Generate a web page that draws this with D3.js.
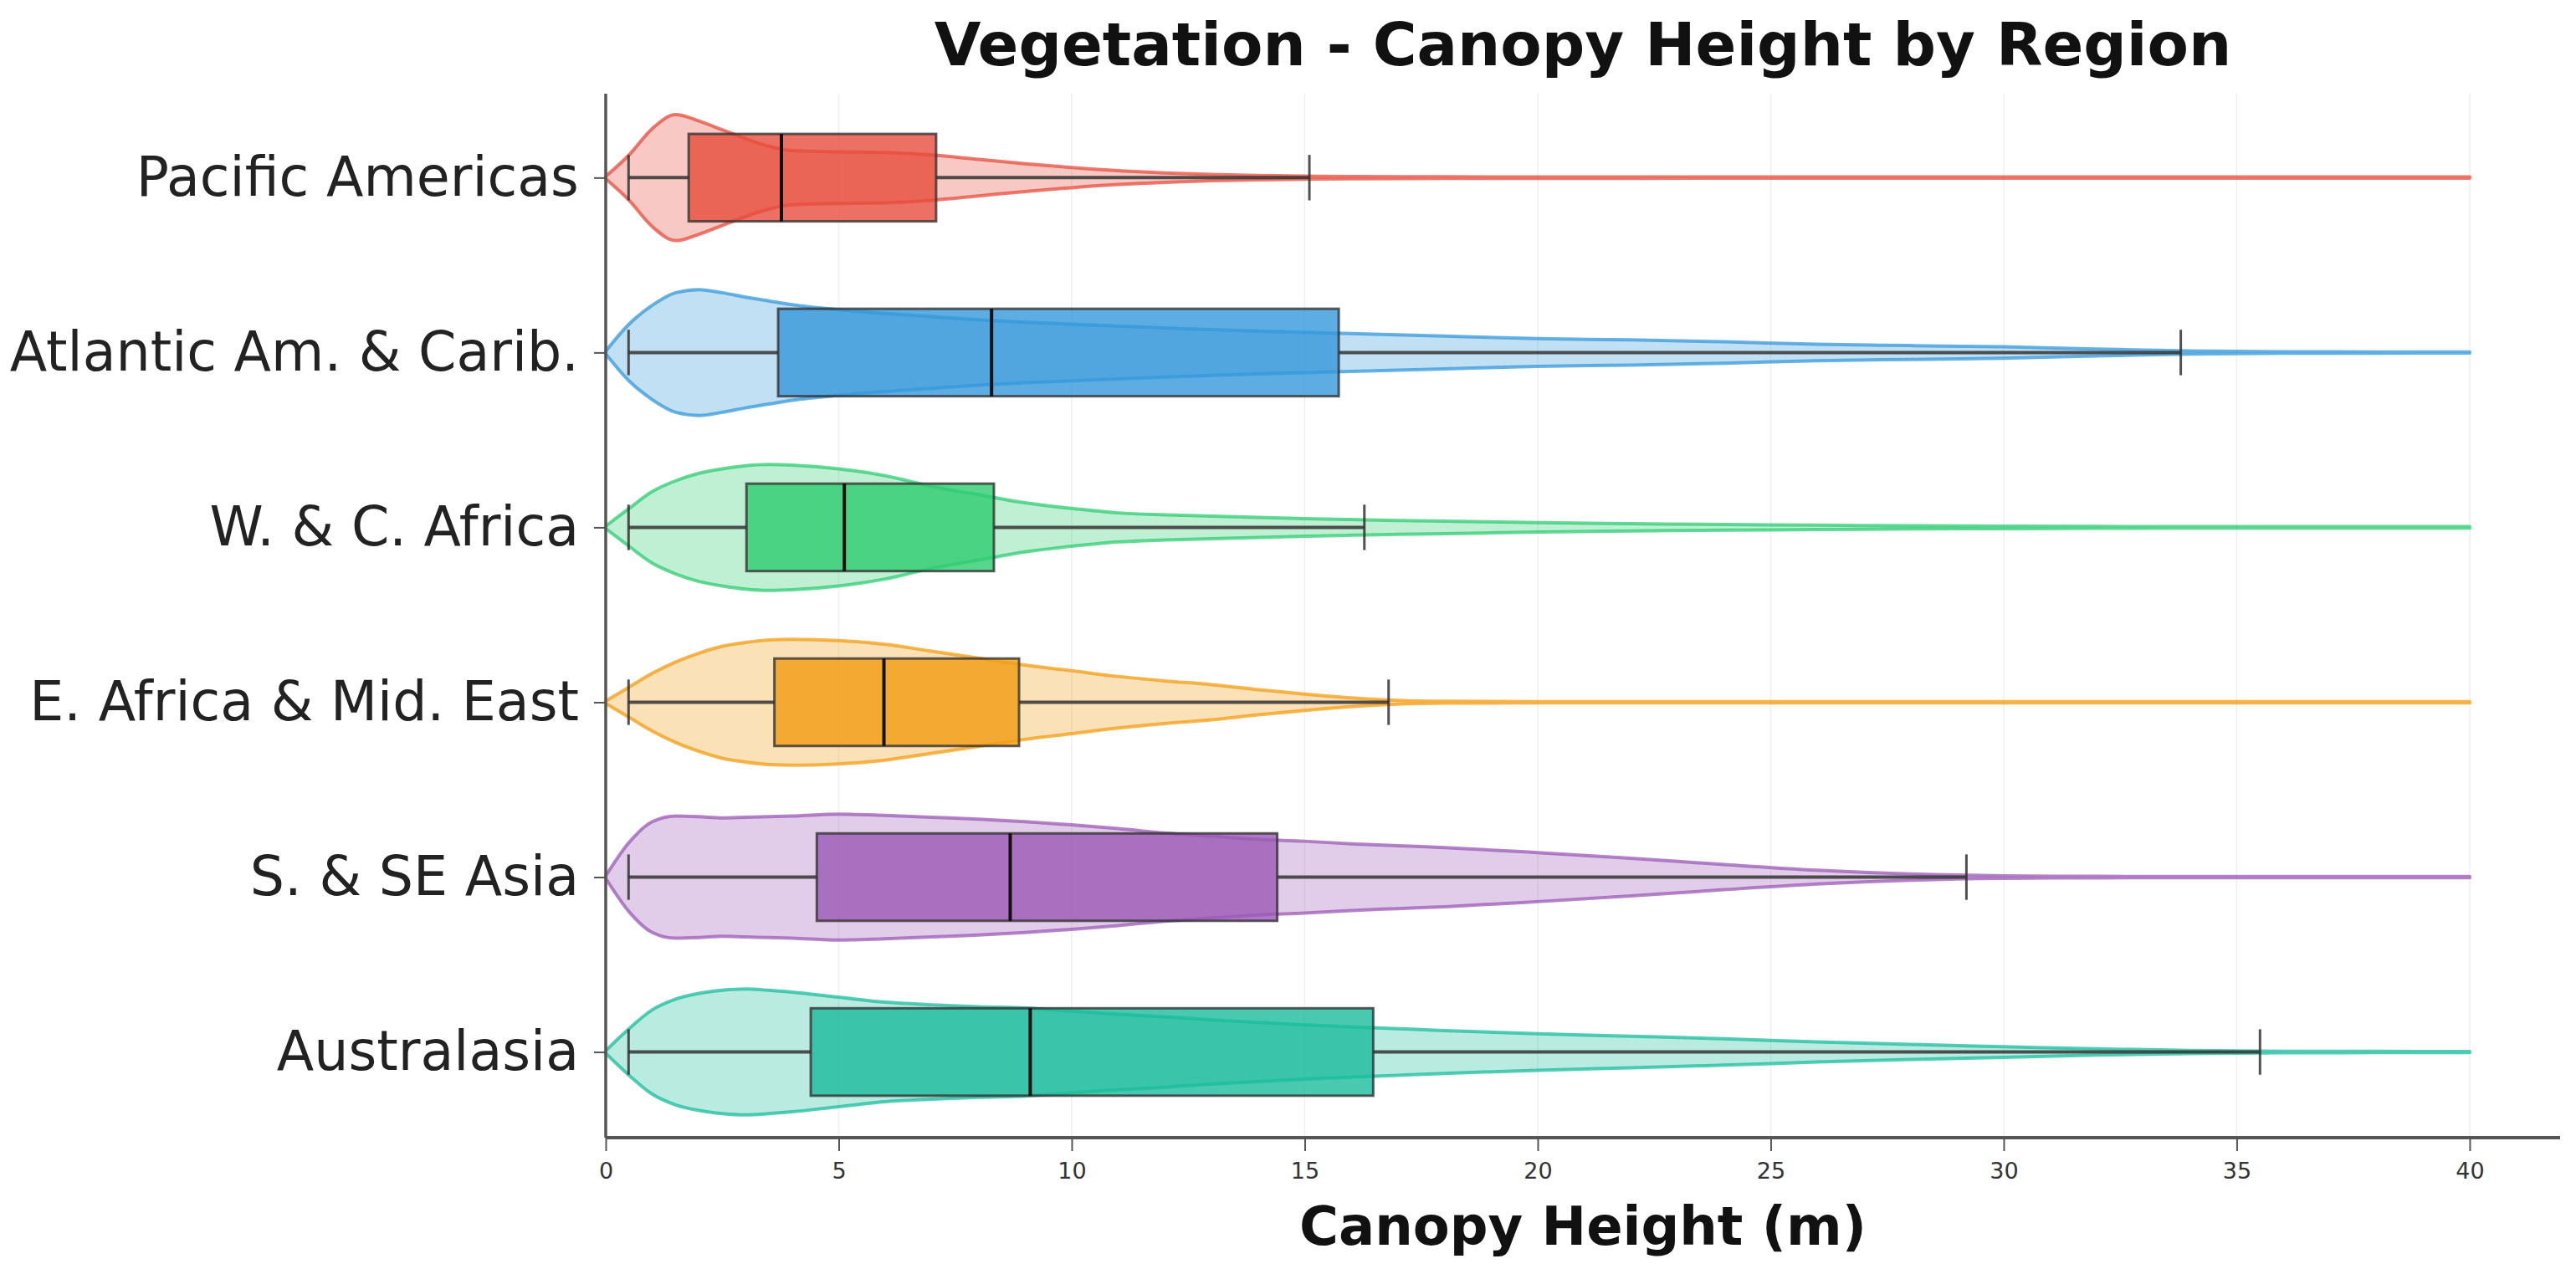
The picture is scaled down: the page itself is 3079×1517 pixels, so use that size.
<!DOCTYPE html>
<html>
<head>
<meta charset="utf-8">
<script src="https://cdn.jsdelivr.net/npm/d3@7"></script>
<style>
  html, body { margin: 0; padding: 0; background: #ffffff; }
  svg { display: block; }
  text { font-family: "DejaVu Sans", sans-serif; }
</style>
</head>
<body>
<script>
// ---------------- DATA ----------------
const categories = ["Pacific Americas", "Atlantic Am. & Carib.", "W. & C. Africa",
                    "E. Africa & Mid. East", "S. & SE Asia", "Australasia"];
const colors = ["#e74c3c", "#3498db", "#2ecc71", "#f39c12", "#9b59b6", "#1abc9c"];

const whiskerLow  = [0.49, 0.49, 0.49, 0.49, 0.49, 0.49];
const q1          = [1.78, 3.70, 3.02, 3.62, 4.53, 4.40];
const median      = [3.77, 8.28, 5.12, 5.97, 8.68, 9.11];
const q3          = [7.09, 15.73, 8.33, 8.87, 14.41, 16.47];
const whiskerHigh = [15.1, 33.8, 16.28, 16.8, 29.2, 35.5];

// violin profile: canopy height grid (m) and relative density (max = 1) per region
const densityGrid = [0, 0.5, 1, 1.5, 2, 2.5, 3, 3.5, 4, 5, 6, 7, 8, 9, 10, 11, 12, 13, 14, 15,
                     16, 17, 18, 20, 22, 24, 26, 28, 30, 32, 34, 36, 38, 40];
const densityPacific = [0.02,0.36,0.78,1.0,0.9,0.76,0.62,0.5,0.43,0.41,0.40,0.36,0.29,0.22,0.16,0.11,0.075,0.05,0.035,0.025,0.018,0.015,0.013,0.012,0.011,0.01,0.01,0.01,0.01,0.01,0.01,0.01,0.01,0.01];
const densityAtlantic = [0.02,0.45,0.75,0.95,1.0,0.95,0.88,0.82,0.76,0.68,0.62,0.57,0.52,0.48,0.45,0.42,0.39,0.365,0.34,0.32,0.30,0.28,0.26,0.22,0.20,0.17,0.13,0.11,0.09,0.055,0.025,0.012,0.01,0.008];
const densityWCAfrica = [0.02,0.3,0.57,0.74,0.86,0.93,0.98,1.0,0.99,0.93,0.82,0.65,0.52,0.39,0.3,0.23,0.2,0.18,0.16,0.14,0.125,0.11,0.1,0.075,0.058,0.045,0.035,0.025,0.02,0.015,0.012,0.012,0.012,0.012];
const densityEAfrica = [0.02,0.24,0.46,0.64,0.78,0.89,0.95,0.99,1.0,0.98,0.92,0.81,0.7,0.59,0.5,0.41,0.34,0.28,0.2,0.13,0.07,0.03,0.015,0.01,0.01,0.01,0.01,0.01,0.01,0.01,0.01,0.01,0.01,0.01];
const densitySAsia = [0.02,0.55,0.88,0.97,0.96,0.94,0.95,0.96,0.97,1.0,0.98,0.95,0.92,0.88,0.83,0.77,0.7,0.65,0.6,0.57,0.53,0.5,0.47,0.39,0.3,0.2,0.11,0.05,0.02,0.012,0.01,0.01,0.01,0.01];
const densityAustralasia = [0.02,0.37,0.67,0.84,0.93,0.98,1.0,0.98,0.95,0.87,0.79,0.75,0.72,0.7,0.65,0.6,0.56,0.51,0.47,0.43,0.4,0.37,0.34,0.29,0.25,0.21,0.16,0.12,0.085,0.05,0.025,0.012,0.01,0.008];
const densities = [densityPacific, densityAtlantic, densityWCAfrica, densityEAfrica, densitySAsia, densityAustralasia];

const xTicks = [0, 5, 10, 15, 20, 25, 30, 35, 40];
const titleText = "Vegetation - Canopy Height by Region";
const xLabelText = "Canopy Height (m)";

// ---------------- LAYOUT ----------------
const W = 3079, H = 1517;
const plot = { left: 724, right: 3060, top: 112, bottom: 1360 };
const violinHalf = 0.36, boxHalf = 0.25, capHalf = 0.13;

const svg = d3.select("body").append("svg").attr("width", W).attr("height", H);
svg.append("rect").attr("width", W).attr("height", H).attr("fill", "#ffffff");

const x = d3.scaleLinear().domain([0, 41.94]).range([plot.left, plot.right]);
const y = d3.scaleLinear().domain([-0.48, 5.49]).range([plot.top, plot.bottom]);
const unit = y(1) - y(0);

// grid lines
svg.append("g").selectAll("line").data(xTicks).join("line")
  .attr("x1", d => x(d)).attr("x2", d => x(d))
  .attr("y1", plot.top).attr("y2", plot.bottom)
  .attr("stroke", "#efefef").attr("stroke-width", 1.5);

const marks = svg.append("g");

categories.forEach((cat, i) => {
  const cy = y(i);
  const col = colors[i];
  const g = marks.append("g");

  // box fill
  g.append("rect")
    .attr("x", x(q1[i])).attr("width", x(q3[i]) - x(q1[i]))
    .attr("y", cy - boxHalf * unit).attr("height", 2 * boxHalf * unit)
    .attr("fill", col).attr("fill-opacity", 0.8);

  // violin
  const pts = densityGrid.map((v, k) => [v, densities[i][k]]);
  const area = d3.area()
    .x(d => x(d[0]))
    .y0(d => cy + d[1] * violinHalf * unit)
    .y1(d => cy - d[1] * violinHalf * unit)
    .curve(d3.curveMonotoneX);
  g.append("path").attr("d", area(pts))
    .attr("fill", col).attr("fill-opacity", 0.3)
    .attr("stroke", col).attr("stroke-opacity", 0.75).attr("stroke-width", 4)
    .attr("stroke-linejoin", "round");

  // whiskers
  g.append("line").attr("x1", x(whiskerLow[i])).attr("x2", x(q1[i]))
    .attr("y1", cy).attr("y2", cy).attr("stroke", "#333").attr("stroke-opacity", 0.85).attr("stroke-width", 4);
  g.append("line").attr("x1", x(q3[i])).attr("x2", x(whiskerHigh[i]))
    .attr("y1", cy).attr("y2", cy).attr("stroke", "#333").attr("stroke-opacity", 0.85).attr("stroke-width", 4);
  [whiskerLow[i], whiskerHigh[i]].forEach(v => {
    g.append("line").attr("x1", x(v)).attr("x2", x(v))
      .attr("y1", cy - capHalf * unit).attr("y2", cy + capHalf * unit)
      .attr("stroke", "#333").attr("stroke-opacity", 0.85).attr("stroke-width", 3);
  });

  // box outline
  g.append("rect")
    .attr("x", x(q1[i])).attr("width", x(q3[i]) - x(q1[i]))
    .attr("y", cy - boxHalf * unit).attr("height", 2 * boxHalf * unit)
    .attr("fill", "none").attr("stroke", "#333").attr("stroke-opacity", 0.8).attr("stroke-width", 3);

  // median
  g.append("line").attr("x1", x(median[i])).attr("x2", x(median[i]))
    .attr("y1", cy - boxHalf * unit).attr("y2", cy + boxHalf * unit)
    .attr("stroke", "#111").attr("stroke-width", 4);
});

// x axis
const xAxis = d3.axisBottom(x).tickValues(xTicks).tickSize(16).tickPadding(14).tickFormat(d3.format("d"));
const gx = svg.append("g").attr("transform", `translate(0,${plot.bottom})`).call(xAxis);
gx.select(".domain").remove();
gx.selectAll(".tick line").attr("stroke", "#555").attr("stroke-width", 2);
gx.selectAll(".tick text").attr("font-size", 27).attr("fill", "#333")
  .attr("font-family", "'DejaVu Sans', sans-serif");

// y axis
const yAxis = d3.axisLeft(y).tickValues(d3.range(categories.length)).tickSize(14).tickPadding(18)
  .tickFormat(i => categories[i]);
const gy = svg.append("g").attr("transform", `translate(${plot.left},0)`).call(yAxis);
gy.select(".domain").remove();
gy.selectAll(".tick line").attr("stroke", "#555").attr("stroke-width", 2);
gy.selectAll(".tick text").attr("font-size", 65).attr("fill", "#222")
  .attr("font-family", "'DejaVu Sans', sans-serif");

// spines
svg.append("line").attr("x1", plot.left).attr("x2", plot.left).attr("y1", plot.top).attr("y2", plot.bottom)
  .attr("stroke", "#555").attr("stroke-width", 3.5);
svg.append("line").attr("x1", plot.left).attr("x2", plot.right).attr("y1", plot.bottom).attr("y2", plot.bottom)
  .attr("stroke", "#555").attr("stroke-width", 4);

// title & label
svg.append("text").attr("x", (plot.left + plot.right) / 2).attr("y", 78)
  .attr("text-anchor", "middle").attr("font-size", 72).attr("font-weight", "bold").attr("fill", "#111")
  .text(titleText);
svg.append("text").attr("x", (plot.left + plot.right) / 2).attr("y", 1488)
  .attr("text-anchor", "middle").attr("font-size", 64).attr("font-weight", "bold").attr("fill", "#111")
  .text(xLabelText);
</script>
</body>
</html>
